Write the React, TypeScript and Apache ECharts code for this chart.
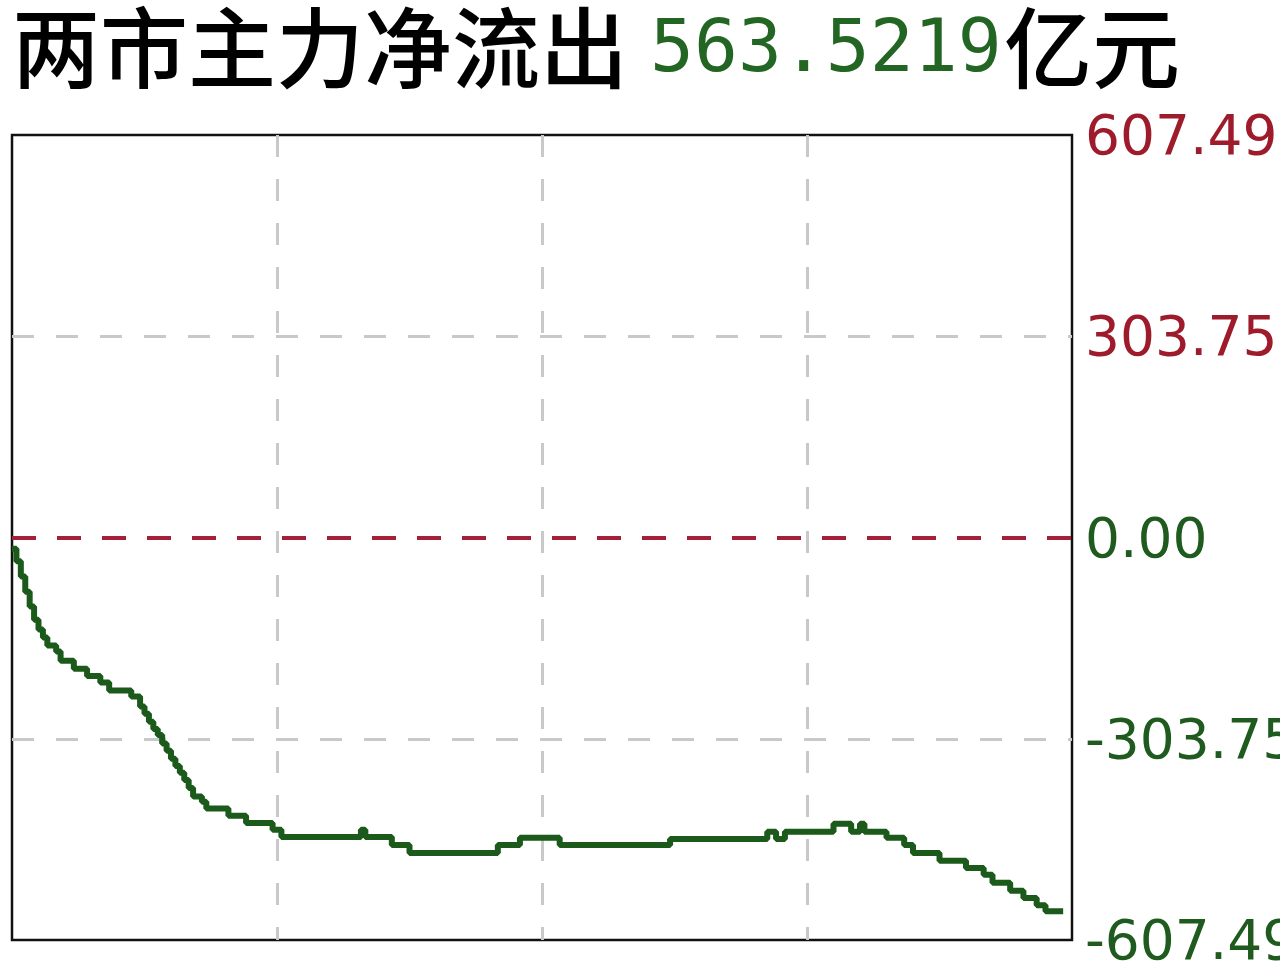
import React, { useEffect, useRef } from "react";
import * as echarts from "echarts";

// Trading minute (0–240) at which each step begins, and the net flow (亿元) held from it
const minutes = [0, 1, 2, 3, 4, 5, 6, 7, 8, 10, 11, 14, 17, 20, 22, 27, 29, 30, 31, 32, 33, 34, 35, 36, 37, 38, 39, 40, 41, 43, 44, 49, 53, 59, 61, 79, 80, 86, 90, 110, 115, 124, 149, 171, 173, 175, 186, 190, 192, 193, 198, 202, 204, 210, 216, 220, 222, 226, 229, 232, 234, 238];
const flows = [-17, -36, -59, -82, -104, -124, -139, -151, -163, -172, -186, -198, -209, -219, -231, -240, -255, -266, -278, -289, -298, -311, -322, -334, -345, -355, -366, -378, -391, -399, -409, -420, -431, -441, -452, -441, -452, -464, -476, -464, -453, -464, -455, -444, -455, -444, -432, -444, -432, -444, -453, -464, -476, -488, -499, -509, -521, -533, -544, -555, -564, -563.52];

const yTickLabels = ["-607.49", "-303.75", "0.00", "303.75", "607.49"];
const yMax = 607.49;
const titleText = "两市主力净流出";
const titleValue = "563.5219";
const titleUnit = "亿元";

const RED = "#9e1b2b";
const GREEN = "#1f5a1f";
const LINE_GREEN = "#1b5a1b";
const GRID_GRAY = "#c9c9c9";
const NONE = "rgba(0,0,0,0)";

export default function App() {
  const ref = useRef<HTMLDivElement>(null);

  useEffect(() => {
    if (!ref.current) return;
    const chart = echarts.init(ref.current, undefined, { renderer: "svg" });
    const data = minutes.map((m, i) => [m, flows[i]]);
    chart.setOption({
      animation: false,
      backgroundColor: "#ffffff",
      graphic: [
        {
          type: "text",
          x: 12,
          y: 42,
          style: {
            text: titleText,
            fill: "#000000",
            font: '500 88px "Noto Sans CJK SC"',
            verticalAlign: "middle",
            lineHeight: 88,
          },
        },
        {
          type: "text",
          x: 650,
          y: 45,
          style: {
            text: titleValue,
            fill: "#236523",
            font: '73px "DejaVu Sans Mono"',
            verticalAlign: "middle",
            lineHeight: 73,
          },
        },
        {
          type: "text",
          x: 1004,
          y: 42,
          style: {
            text: titleUnit,
            fill: "#000000",
            font: '500 88px "Noto Sans CJK SC"',
            verticalAlign: "middle",
            lineHeight: 88,
          },
        },
      ],
      grid: {
        left: 12,
        top: 135,
        right: 208,
        bottom: 30,
        outerBoundsMode: "none",
        containLabel: false,
        show: true,
        borderColor: "#111111",
        borderWidth: 2.5,
        backgroundColor: "#ffffff",
      },
      xAxis: {
        type: "value",
        min: 0,
        max: 240,
        interval: 60,
        axisLine: { show: false },
        axisTick: { show: false },
        axisLabel: { show: false },
        splitLine: {
          show: true,
          lineStyle: { color: [NONE, GRID_GRAY, GRID_GRAY, GRID_GRAY, NONE], width: 3, type: [22, 22] },
        },
      },
      yAxis: {
        type: "value",
        position: "right",
        min: -yMax,
        max: yMax,
        interval: yMax / 2,
        axisLine: { show: false },
        axisTick: { show: false },
        axisLabel: {
          margin: 13,
          formatter: (v: number, i: number) => {
            const t = yTickLabels[i] ?? v.toFixed(2);
            return v > 0 ? `{r|${t}}` : `{g|${t}}`;
          },
          rich: {
            r: { color: RED, fontSize: 55, fontFamily: "DejaVu Sans" },
            g: { color: GREEN, fontSize: 55, fontFamily: "DejaVu Sans" },
          },
        },
        splitLine: {
          show: true,
          lineStyle: { color: [NONE, GRID_GRAY, NONE, GRID_GRAY, NONE], width: 3, type: [22, 22] },
        },
      },
      series: [
        {
          type: "line",
          step: "end",
          data,
          symbol: "none",
          lineStyle: { color: LINE_GREEN, width: 6 },
          markLine: {
            silent: true,
            symbol: "none",
            label: { show: false },
            lineStyle: { color: "#a51f38", width: 4, type: [24, 21] },
            data: [{ yAxis: 0 }],
          },
        },
      ],
    });
    return () => chart.dispose();
  }, []);

  return (
    <div
      ref={ref}
      style={{ position: "absolute", left: 0, top: 0, width: 1280, height: 970, background: "#fff" }}
    />
  );
}
